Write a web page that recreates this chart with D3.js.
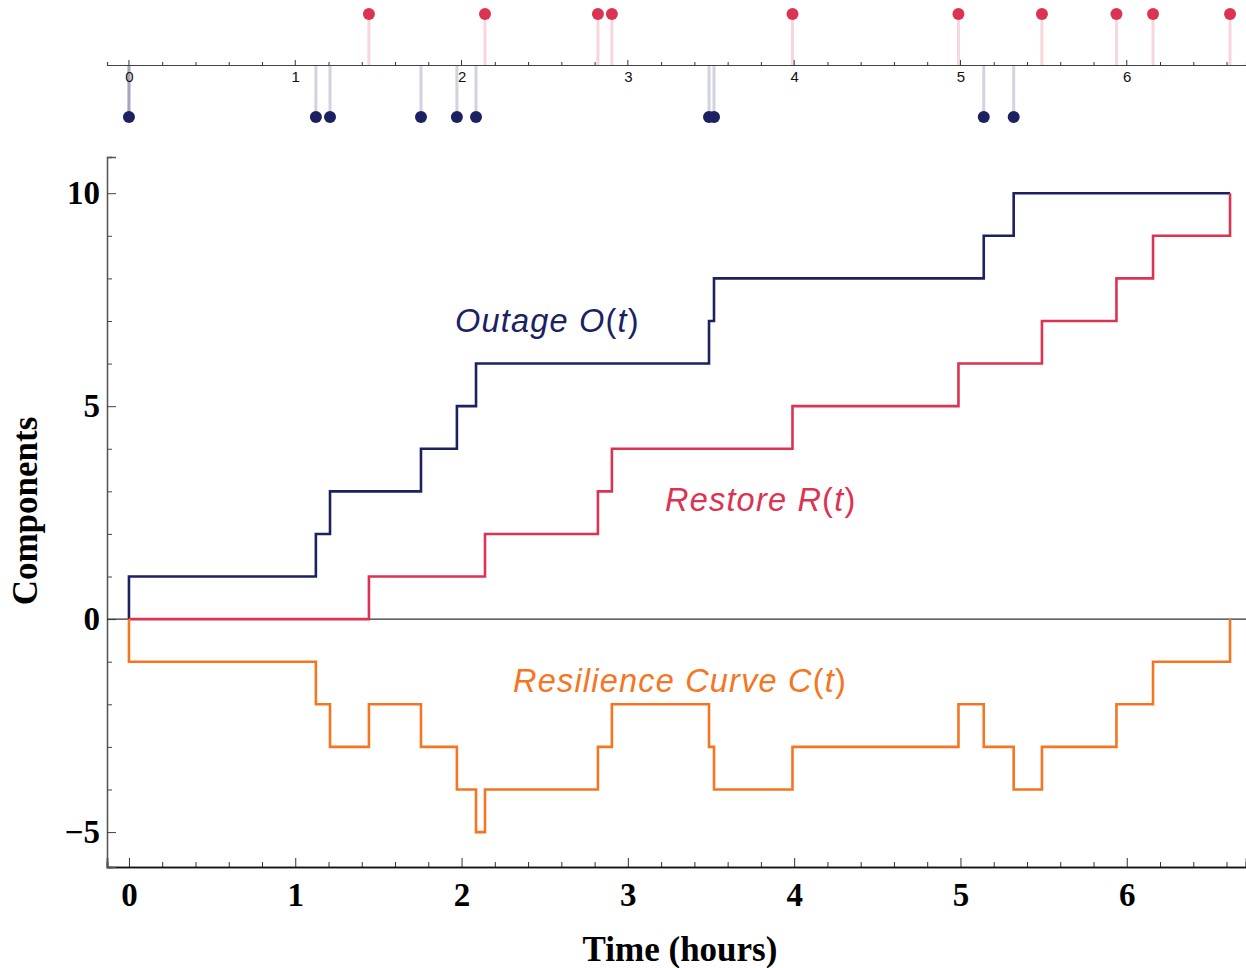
<!DOCTYPE html>
<html>
<head>
<meta charset="utf-8">
<script src="https://cdn.jsdelivr.net/npm/d3@7"></script>
<style>
  html, body { margin: 0; padding: 0; background: #fff; }
  svg { display: block; }
</style>
</head>
<body>
<svg id="chart" width="1246" height="968"></svg>
<script>
// ---------------- DATA ----------------
const outageTimes   = [0, 1.124, 1.209, 1.756, 1.972, 2.087, 3.488, 3.518, 5.14, 5.32];
const outageCounts  = [1, 2, 3, 4, 5, 6, 7, 8, 9, 10];
const restoreTimes  = [1.443, 2.141, 2.820, 2.904, 3.990, 4.988, 5.490, 5.938, 6.158, 6.621];
const restoreCounts = [1, 2, 3, 4, 5, 6, 7, 8, 9, 10];
const resilienceTimes  = [0, 1.124, 1.209, 1.443, 1.756, 1.972, 2.087, 2.141, 2.820, 2.904, 3.488, 3.518, 3.990, 4.988, 5.14, 5.32, 5.490, 5.938, 6.158, 6.621];
const resilienceValues = [-1, -2, -3, -2, -3, -4, -5, -4, -3, -2, -3, -4, -3, -2, -3, -4, -3, -2, -1, 0];
const xTicks = [0, 1, 2, 3, 4, 5, 6];
const yTicks = [-5, 0, 5, 10];
const seriesLabels = ["Outage ", "Restore ", "Resilience Curve "];
const seriesSymbols = ["O", "R", "C"];
const xTitle = "Time (hours)";
const yTitle = "Components";

// ---------------- STYLE ----------------
const cOut = "#1b2161", cRes = "#dc3352", cCur = "#f47622";
const svg = d3.select("#chart");

const x = d3.scaleLinear().domain([-0.132, 6.717]).range([107, 1246]);
const y = d3.scaleLinear().domain([-5.82, 10.85]).range([867, 157]);
const tEnd = d3.max(restoreTimes);

// ---------- top event strip ----------
const stripY = 65, redY = 14, blueY = 117;
const strip = svg.append("g");
strip.selectAll("line.rs").data(restoreTimes).enter().append("line")
  .attr("x1", d => x(d)).attr("x2", d => x(d)).attr("y1", redY).attr("y2", stripY)
  .attr("stroke", cRes).attr("stroke-opacity", 0.2).attr("stroke-width", 3);
strip.selectAll("line.os").data(outageTimes).enter().append("line")
  .attr("x1", d => x(d)).attr("x2", d => x(d)).attr("y1", stripY).attr("y2", blueY)
  .attr("stroke", cOut).attr("stroke-opacity", 0.2).attr("stroke-width", 3);

const stripAxisMinor = d3.axisTop(x).tickValues(d3.range(0, 6.75, 0.2).filter(v => Math.abs(v - Math.round(v)) > 1e-6)).tickSize(3).tickFormat("");
const stripAxisMajor = d3.axisBottom(x).tickValues(xTicks).tickSize(0).tickPadding(6).tickFormat(d3.format("d"));
const gsMinor = strip.append("g").attr("transform", `translate(0,${stripY})`).call(stripAxisMinor);
const gsMajor = strip.append("g").attr("transform", `translate(0,${stripY})`).call(stripAxisMajor);
strip.append("g").selectAll("line").data(xTicks).enter().append("line")
  .attr("x1", d => x(d)).attr("x2", d => x(d)).attr("y1", stripY - 5).attr("y2", stripY)
  .attr("stroke", "#333").attr("stroke-width", 1);
[gsMinor, gsMajor].forEach(g => {
  g.select(".domain").attr("stroke", "#444").attr("stroke-width", 1.2);
  g.selectAll(".tick line").attr("stroke", "#333");
});
gsMajor.selectAll(".tick text").attr("font-family", "Liberation Sans, Arial, sans-serif").attr("font-size", 15).attr("fill", "#111");
strip.append("line").attr("x1", x(outageTimes[0])).attr("x2", x(outageTimes[0])).attr("y1", stripY).attr("y2", blueY)
  .attr("stroke", cOut).attr("stroke-opacity", 0.25).attr("stroke-width", 3);
strip.selectAll("circle.r").data(restoreTimes).enter().append("circle")
  .attr("cx", d => x(d)).attr("cy", redY).attr("r", 6).attr("fill", cRes);
strip.selectAll("circle.o").data(outageTimes).enter().append("circle")
  .attr("cx", d => x(d)).attr("cy", blueY).attr("r", 6).attr("fill", cOut);

// ---------- main axes ----------
const serif = "Liberation Serif, Times New Roman, serif";
const gxMinor = svg.append("g").attr("transform", "translate(0,867)")
  .call(d3.axisBottom(x).tickValues(d3.range(0, 6.75, 0.2).filter(v => Math.abs(v - Math.round(v)) > 1e-6)).tickSize(-5).tickFormat(""));
const gx = svg.append("g").attr("transform", "translate(0,867)")
  .call(d3.axisBottom(x).tickValues(xTicks).tickSize(-9).tickPadding(16).tickFormat(d3.format("d")));
const gyMinor = svg.append("g").attr("transform", "translate(107,0)")
  .call(d3.axisLeft(y).tickValues(d3.range(-5, 11, 1).filter(v => v % 5 !== 0)).tickSize(-5).tickFormat(""));
const gy = svg.append("g").attr("transform", "translate(107,0)")
  .call(d3.axisLeft(y).tickValues(yTicks).tickSize(-9).tickPadding(7));
[gxMinor, gx].forEach(g => { g.select(".domain").attr("stroke", "#111").attr("stroke-width", 1.6); g.selectAll(".tick line").attr("stroke", "#333"); });
[gyMinor, gy].forEach(g => { g.select(".domain").attr("stroke", "#555").attr("stroke-width", 1.3); g.selectAll(".tick line").attr("stroke", "#444"); });
[gx, gy].forEach(g => g.selectAll(".tick text").attr("font-family", serif).attr("font-weight", "bold").attr("font-size", 33).attr("fill", "#000"));

svg.append("line").attr("x1", 107).attr("x2", 1246).attr("y1", y(0)).attr("y2", y(0))
  .attr("stroke", "#333").attr("stroke-width", 1.2);

// ---------- step series ----------
function stepPoints(times, vals, start) {
  const pts = [[0, start]];
  times.forEach((t, i) => pts.push([t, vals[i]]));
  pts.push([tEnd, vals[vals.length - 1]]);
  return pts;
}
const line = d3.line().x(d => x(d[0])).y(d => y(d[1])).curve(d3.curveStepAfter);
const series = [
  { pts: stepPoints(outageTimes, outageCounts, 0), color: cOut },
  { pts: stepPoints(restoreTimes, restoreCounts, 0), color: cRes },
  { pts: stepPoints(resilienceTimes, resilienceValues, 0), color: cCur }
];
svg.selectAll("path.s").data(series).enter().append("path")
  .attr("d", d => line(d.pts)).attr("fill", "none")
  .attr("stroke", d => d.color).attr("stroke-width", 2.6).attr("stroke-linejoin", "miter");

// ---------- labels ----------
const labelPos = [[455, 332, cOut], [665, 511, cRes], [513, 692, cCur]];
labelPos.forEach((p, i) => {
  const t = svg.append("text").attr("x", p[0]).attr("y", p[1]).attr("fill", p[2])
    .attr("font-family", "Liberation Sans, Arial, sans-serif").attr("font-size", 32.5)
    .attr("font-style", "italic").attr("letter-spacing", 1.2);
  t.append("tspan").text(seriesLabels[i] + seriesSymbols[i]);
  t.append("tspan").attr("font-style", "normal").text("(");
  t.append("tspan").text("t");
  t.append("tspan").attr("font-style", "normal").text(")");
});

svg.append("text").attr("x", 680).attr("y", 961).attr("text-anchor", "middle")
  .attr("font-family", serif).attr("font-weight", "bold").attr("font-size", 35).text(xTitle);
svg.append("text").attr("transform", "translate(37,511) rotate(-90)").attr("text-anchor", "middle")
  .attr("font-family", serif).attr("font-weight", "bold").attr("font-size", 35).text(yTitle);
</script>
</body>
</html>
